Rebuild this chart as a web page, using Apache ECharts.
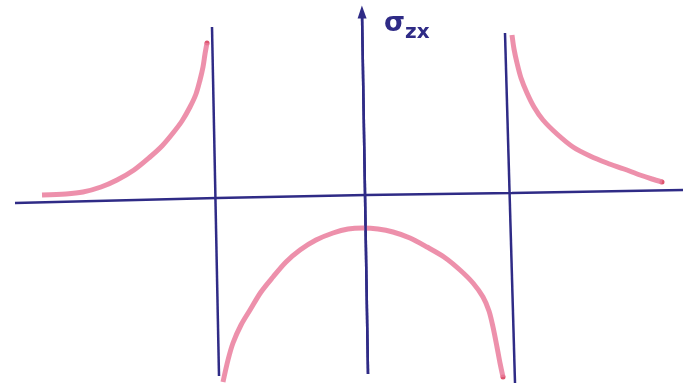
<!DOCTYPE html>
<html>
<head>
<meta charset="utf-8">
<script src="https://cdn.jsdelivr.net/npm/echarts@6/dist/echarts.min.js"></script>
<style>
  html, body { margin: 0; padding: 0; background: #fff; }
  #chart { width: 683px; height: 390px; }
</style>
</head>
<body>
<div id="chart"></div>
<script>
// sketch frame: origin where the two axes cross, y up
var xAxisLine = [[-351, -8], [-149, -3], [0, 0], [146, 2], [317, 5]];
var leftWall = [[-154, 168], [-147, -181]];
var rightWall = [[139, 162], [149, -188]];
var sigmaAxis = [[2, -179], [-4, 183]];

// shear stress sigma_zx
var leftBranch = [[-324, 0], [-300, 1], [-283, 3], [-265, 8], [-249, 15], [-232, 25], [-216, 38], [-204, 49], [-193, 62], [-184, 74], [-176, 88], [-170, 101], [-166, 115], [-163, 128], [-161, 141], [-159, 152]];
var middleBranch = [[-143, -187], [-138, -165], [-133, -148], [-125, -130], [-116, -115], [-105, -97], [-93, -82], [-80, -67], [-66, -55], [-50, -45], [-33, -38], [-18, -34], [-3, -33], [12, -34], [27, -37], [44, -43], [61, -52], [78, -62], [94, -75], [107, -88], [117, -102], [123, -116], [127, -132], [131, -152], [134, -168], [137, -182]];
var rightBranch = [[146, 160], [148, 146], [151, 132], [155, 117], [161, 102], [168, 88], [177, 75], [191, 61], [207, 48], [224, 39], [241, 32], [258, 26], [274, 20], [286, 16], [296, 13]];

var axisColor = '#2f2b86';
var curveColor = '#ea7d9c';
var dotColor = '#d42a4a';

function curve(data) {
  return {
    type: 'line', data: data, smooth: 0.3, symbol: 'none', silent: true,
    lineStyle: { color: curveColor, width: 5, opacity: 0.85 }
  };
}
function stick(data) {
  return {
    type: 'line', data: data, symbol: 'none', silent: true,
    lineStyle: { color: axisColor, width: 2.5 }
  };
}
function ends(data) {
  return data[data.length - 1];
}

var chart = echarts.init(document.getElementById('chart'));
chart.setOption({
  animation: false,
  grid: { left: 0, right: 0, top: 0, bottom: 0 },
  xAxis: { type: 'value', min: -366, max: 317, show: false },
  yAxis: { type: 'value', min: -195, max: 195, show: false },
  series: [
    stick(xAxisLine),
    stick(leftWall),
    stick(rightWall),
    {
      type: 'line', data: sigmaAxis, symbol: 'none', silent: true,
      lineStyle: { color: axisColor, width: 2.5 },
      markLine: {
        silent: true, symbol: ['none', 'triangle'], symbolSize: [9, 13],
        label: { show: false },
        lineStyle: { color: axisColor, width: 2.5, type: 'solid' },
        data: [[{ coord: sigmaAxis[0] }, { coord: sigmaAxis[1] }]]
      }
    },
    curve(leftBranch),
    curve(middleBranch),
    curve(rightBranch),
    {
      type: 'scatter', symbolSize: 5, silent: true,
      itemStyle: { color: dotColor },
      data: [ends(leftBranch), ends(middleBranch), ends(rightBranch)]
    }
  ],
  graphic: [{
    type: 'text', left: 384, top: 10,
    style: { text: 'σ', fontSize: 27, fontWeight: 'bold', fill: axisColor, fontFamily: 'DejaVu Sans' }
  }, {
    type: 'text', left: 405, top: 23,
    style: { text: 'zx', fontSize: 20, fontWeight: 'bold', fill: axisColor, fontFamily: 'DejaVu Sans' }
  }]
});
</script>
</body>
</html>
